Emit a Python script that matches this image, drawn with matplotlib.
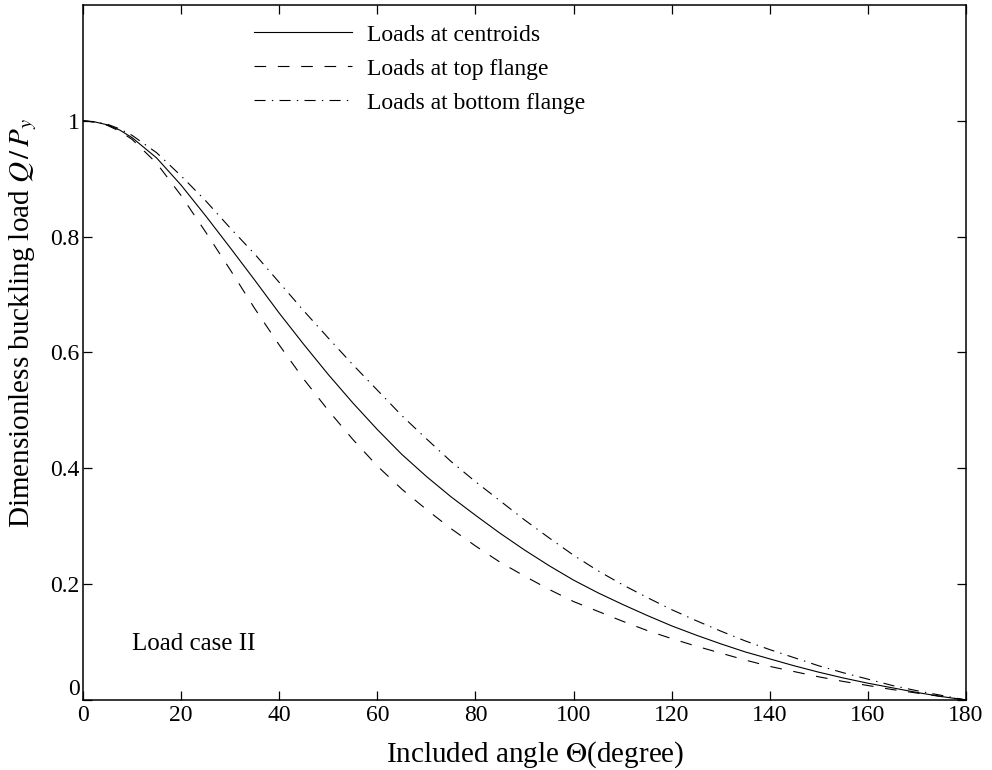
import matplotlib
matplotlib.use("Agg")
import matplotlib.pyplot as plt

plt.rcParams["font.family"] = ["Liberation Serif", "DejaVu Serif"]
plt.rcParams["mathtext.fontset"] = "stix"
plt.rcParams["lines.scale_dashes"] = False

# angulo incluido (grados)
angulo = [0, 2.5, 5, 7.5, 10, 15, 20, 25, 30, 35, 40, 45, 50, 55, 60, 65, 70, 75, 80,
          85, 90, 95, 100, 105, 110, 115, 120, 125, 130, 135, 140, 145, 150, 155,
          160, 165, 170, 175, 180]

# Q/Py
centroides = [1.0, 0.998, 0.993, 0.984, 0.971, 0.936, 0.889, 0.836, 0.781, 0.725,
              0.668, 0.614, 0.562, 0.513, 0.467, 0.424, 0.386, 0.351, 0.319, 0.288,
              0.259, 0.232, 0.207, 0.185, 0.165, 0.146, 0.128, 0.112, 0.097, 0.083,
              0.071, 0.059, 0.048, 0.038, 0.029, 0.021, 0.013, 0.006, 0.0]
ala_sup = [1.0, 0.998, 0.992, 0.982, 0.968, 0.927, 0.871, 0.808, 0.743, 0.676,
           0.613, 0.554, 0.500, 0.450, 0.404, 0.364, 0.329, 0.296, 0.266, 0.238,
           0.214, 0.191, 0.170, 0.153, 0.136, 0.120, 0.106, 0.093, 0.081, 0.069,
           0.058, 0.049, 0.040, 0.032, 0.025, 0.018, 0.012, 0.006, 0.0]
ala_inf = [1.0, 0.998, 0.994, 0.986, 0.975, 0.945, 0.905, 0.862, 0.815, 0.770,
           0.721, 0.672, 0.625, 0.579, 0.535, 0.491, 0.451, 0.412, 0.377, 0.344,
           0.311, 0.280, 0.250, 0.223, 0.199, 0.177, 0.156, 0.137, 0.119, 0.102,
           0.087, 0.073, 0.059, 0.047, 0.036, 0.025, 0.016, 0.008, 0.0]

xticks = [0, 20, 40, 60, 80, 100, 120, 140, 160, 180]
yticks = [0, 0.2, 0.4, 0.6, 0.8, 1]
ytick_labels = ["0", "0.2", "0.4", "0.6", "0.8", "1"]

fig = plt.figure(figsize=(9.92, 7.7), dpi=100)
ax = fig.add_axes([83 / 992, 70 / 770, 883 / 992, 695 / 770])

ax.plot(angulo, centroides, color="black", lw=0.8, label="Loads at centroids")
ax.plot(angulo, ala_sup, color="black", lw=0.8, dashes=(8.4, 8.4),
        label="Loads at top flange")
ax.plot(angulo, ala_inf, color="black", lw=0.8, dashes=(8, 4.5, 1, 4.5),
        label="Loads at bottom flange")

ax.set_xlim(0, 180)
ax.set_ylim(0, 1.2)
ax.set_xticks(xticks)
ax.set_yticks(yticks)
ax.set_yticklabels(ytick_labels)
ax.get_yticklabels()[0].set_va("bottom")

ax.tick_params(direction="in", top=True, right=True, length=6.5, width=0.9,
               labelsize=17)
ax.tick_params(axis="x", pad=3.6)
ax.tick_params(axis="y", pad=2.5)
for s in ax.spines.values():
    s.set_linewidth(1.1)

ax.set_xlabel(r"Included angle $\Theta$(degree)", fontsize=21)
ax.xaxis.label.set_va("center")
ax.xaxis.set_label_coords(0.512, -0.079)
ax.set_ylabel(r"Dimensionless buckling load $Q\,/\,P_y$", fontsize=21)
ax.yaxis.label.set_va("center")
ax.yaxis.set_label_coords(-0.0676, 0.543)

ax.text(10, 0.087, "Load case II", fontsize=18, va="baseline")

ax.legend(loc="upper left", bbox_to_anchor=((255 - 83.7) / 883, 1 - 19 / 695),
          frameon=False, fontsize=17, handlelength=4.15, handletextpad=0.64,
          labelspacing=0.53, borderpad=0, borderaxespad=0)

plt.savefig("out.png", dpi=100)
